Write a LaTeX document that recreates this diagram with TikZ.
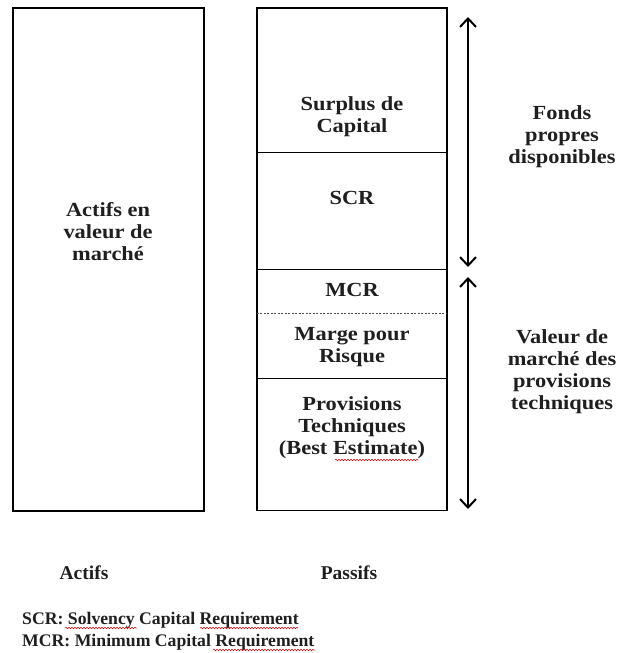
\documentclass[tikz,border=0pt]{standalone}
\usepackage{fontspec}
\setmainfont{Liberation Serif}
\usetikzlibrary{arrows.meta,decorations.pathmorphing}
\begin{document}
\begin{tikzpicture}[x=1pt,y=-1pt,
  lbl/.style={font=\bfseries\fontsize{20}{22}\selectfont, align=center, inner sep=0pt, text=black!88, xscale=1.12},
  btm/.style={font=\bfseries\fontsize{19.5}{22}\selectfont, inner sep=0pt, text=black!88},
  defn/.style={font=\bfseries\fontsize{17.7}{22}\selectfont, inner sep=0pt, text=black!88, anchor=west},
  cell/.style={minimum width=190pt, inner sep=0pt, anchor=north},
  frame/.style={draw, line width=1.8pt},
  divider/.style={line width=0.8pt},
  dashdiv/.style={line width=0.8pt, dashed, dash pattern=on 2pt off 1.5pt, black!70},
  arr/.style={line width=2pt, {Straight Barb[length=8.5pt,width=16pt,line width=2pt]}-{Straight Barb[length=8.5pt,width=16pt,line width=2pt]}},
  squig/.style={red!80!black, line width=0.5pt, decorate, decoration={snake, amplitude=0.8pt, segment length=3pt}}
]
\useasboundingbox (0,0) rectangle (620,653);

% Left box
\node[frame, minimum width=191pt, minimum height=503pt, inner sep=0pt] (actifsbox) at (108.5,259.5) {};
\node[lbl] (actifstxt) at (108,232) {Actifs en\\valeur de\\marché};

% Right cells
\node[cell, minimum height=144pt] (surplus) at (352,8) {};
\node[cell, minimum height=117pt] (scr) at (352,152) {};
\node[cell, minimum height=44pt] (mcr) at (352,269) {};
\node[cell, minimum height=65pt] (marge) at (352,313) {};
\node[cell, minimum height=132pt] (prov) at (352,378) {};
\draw[frame] (surplus.north west) rectangle (prov.south east);
\draw[divider] (surplus.south west) -- (surplus.south east);
\draw[divider] (scr.south west) -- (scr.south east);
\draw[dashdiv] (mcr.south west) -- (mcr.south east);
\draw[divider] (marge.south west) -- (marge.south east);

\node[lbl] (surplustxt) at (352,117) {Surplus de\\Capital};
\node[lbl] (scrtxt) at (352,198) {SCR};
\node[lbl] (mcrtxt) at (352,290) {MCR};
\node[lbl] (margetxt) at (352,347) {Marge pour\\Risque};
\node[lbl] (provtxt) at (352,428) {Provisions\\Techniques\\(Best Estimate)};

% Arrows
\coordinate (a1t) at (468,17);
\coordinate (a1b) at (468,267);
\coordinate (a2t) at (468,277);
\coordinate (a2b) at (468,509);
\draw[arr] (a1t) -- (a1b);
\draw[arr] (a2t) -- (a2b);

\node[lbl] (fonds) at (562,137) {Fonds\\propres\\disponibles};
\node[lbl] (valeur) at (562,372) {Valeur de\\marché des\\provisions\\techniques};

% Bottom labels
\node[btm] (actifs) at (84,573) {Actifs};
\node[btm] (passifs) at (349,573) {Passifs};
\node[defn] (def1) at (22,620) {SCR: Solvency Capital Requirement};
\node[defn] (def2) at (22,642) {MCR: Minimum Capital Requirement};

% spell-check squiggles
\draw[squig] (335,460) -- (418,460);
\draw[squig] (65,628) -- (137,628);
\draw[squig] (200,628) -- (298,628);
\draw[squig] (213,650) -- (315,650);
\end{tikzpicture}
\end{document}
